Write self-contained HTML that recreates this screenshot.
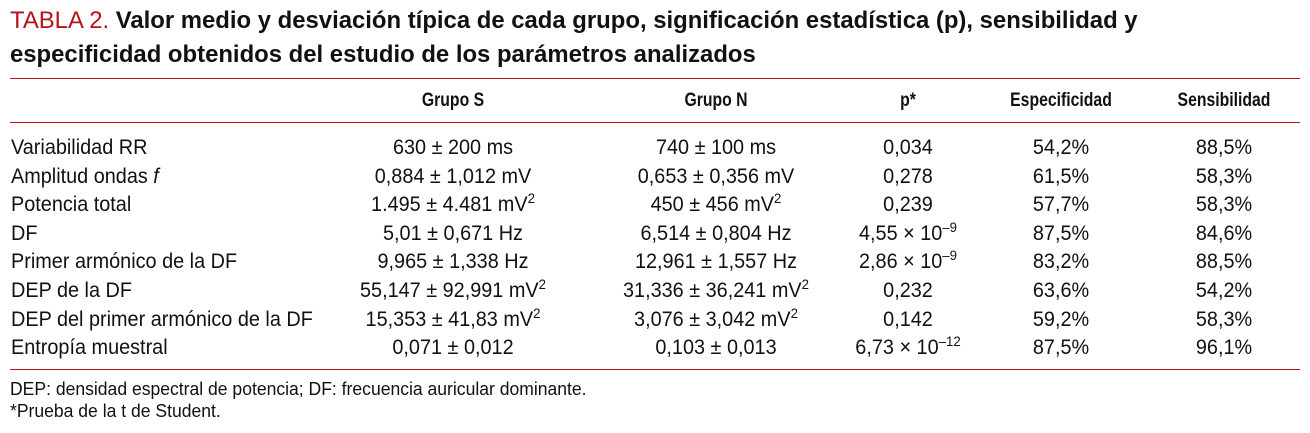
<!DOCTYPE html>
<html><head><meta charset="utf-8">
<style>
html,body{margin:0;padding:0;background:#fff;width:1310px;height:433px;overflow:hidden;position:relative;}
.t{position:absolute;font-family:"Liberation Sans",sans-serif;font-weight:bold;font-size:24px;color:#111;white-space:nowrap;left:10px;transform:scaleX(0.995);transform-origin:left center;}
.t .red{color:#b5121b;font-weight:normal;}
.rule{position:absolute;left:10px;width:1290px;height:1px;background:#b5121b;}
.c{position:absolute;font-family:"Liberation Sans",sans-serif;font-size:21px;color:#111;white-space:nowrap;line-height:22px;transform:scaleX(0.945);transform-origin:left center;}
.h{font-weight:bold;font-size:19px;}
.m{transform:translateX(-50%) scaleX(0.945);transform-origin:center center;}
.h.m{transform:translateX(-50%) scaleX(0.83);}
sup{font-size:14px;vertical-align:8px;line-height:0;}
.f{position:absolute;left:10px;font-family:"Liberation Sans",sans-serif;font-size:18px;color:#111;white-space:nowrap;line-height:20px;transform:scaleX(0.975);transform-origin:left center;}
</style></head><body>
<div class="t" style="top:7px"><span class="red">TABLA 2.</span> Valor medio y desviación típica de cada grupo, significación estadística (p), sensibilidad y</div>
<div class="t" style="top:41px">especificidad obtenidos del estudio de los parámetros analizados</div>
<div class="rule" style="top:78px"></div>
<div class="rule" style="top:122px"></div>
<div class="rule" style="top:369px"></div>
<div id="tbl"></div>
<div class="f" style="top:379px">DEP: densidad espectral de potencia; DF: frecuencia auricular dominante.</div>
<div class="f" style="top:401px">*Prueba de la t de Student.</div>
<script>
const headers=["Grupo S","Grupo N","p*","Especificidad","Sensibilidad"];
const labels=["Variabilidad RR","Amplitud ondas <i>f</i>","Potencia total","DF","Primer armónico de la DF","DEP de la DF","DEP del primer armónico de la DF","Entropía muestral"];
const grupoS=["630 ± 200 ms","0,884 ± 1,012 mV","1.495 ± 4.481 mV<sup>2</sup>","5,01 ± 0,671 Hz","9,965 ± 1,338 Hz","55,147 ± 92,991 mV<sup>2</sup>","15,353 ± 41,83 mV<sup>2</sup>","0,071 ± 0,012"];
const grupoN=["740 ± 100 ms","0,653 ± 0,356 mV","450 ± 456 mV<sup>2</sup>","6,514 ± 0,804 Hz","12,961 ± 1,557 Hz","31,336 ± 36,241 mV<sup>2</sup>","3,076 ± 3,042 mV<sup>2</sup>","0,103 ± 0,013"];
const pvals=["0,034","0,278","0,239","4,55 × 10<sup>–9</sup>","2,86 × 10<sup>–9</sup>","0,232","0,142","6,73 × 10<sup>–12</sup>"];
const espec=["54,2%","61,5%","57,7%","87,5%","83,2%","63,6%","59,2%","87,5%"];
const sens=["88,5%","58,3%","58,3%","84,6%","88,5%","54,2%","58,3%","96,1%"];
const colX=[453,716,908,1061,1224];
const tbl=document.getElementById('tbl');
function cell(html,x,y,cls,name,center){
  const d=document.createElement('div');
  d.className='c '+cls+(center?' m':'');
  d.style.left=x+'px';d.style.top=(y-11)+'px';
  d.innerHTML=html;
  
  
  tbl.appendChild(d);
}
headers.forEach((h,i)=>cell(h,colX[i],101,'h','column-header',true));
const cols=[grupoS,grupoN,pvals,espec,sens];
labels.forEach((l,r)=>{
  const y=148+r*28.6;
  cell(l,11,y,'','row-label',false);
  cols.forEach((c,i)=>cell(c[r],colX[i],y,'','table-cell',true));
});
</script>
</body></html>
